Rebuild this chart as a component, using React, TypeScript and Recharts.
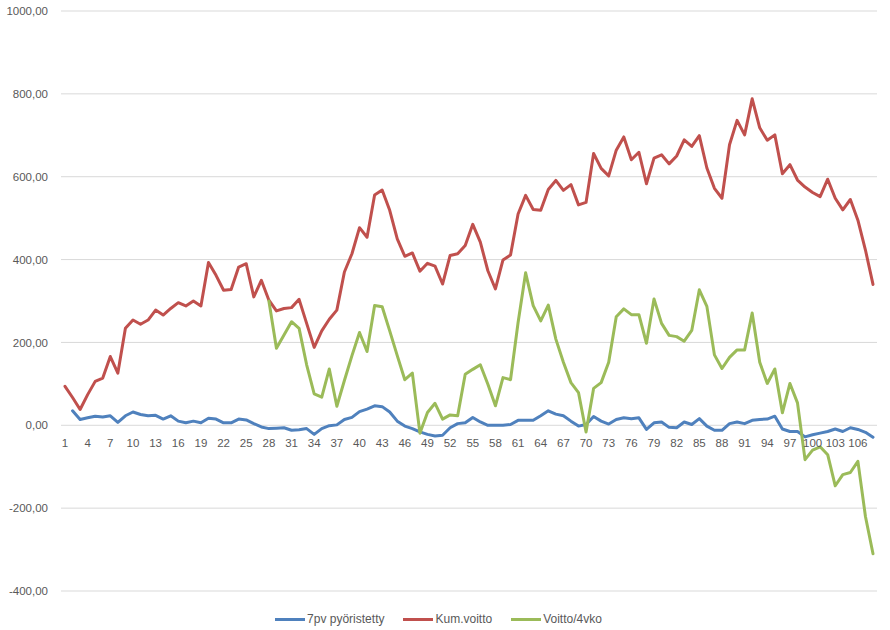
import { LineChart, Line, XAxis, YAxis, CartesianGrid, Legend } from "recharts";

const categories = [
  1, 2, 3, 4, 5, 6, 7, 8, 9, 10, 11, 12, 13, 14, 15, 16, 17, 18, 19, 20,
  21, 22, 23, 24, 25, 26, 27, 28, 29, 30, 31, 32, 33, 34, 35, 36, 37, 38, 39, 40,
  41, 42, 43, 44, 45, 46, 47, 48, 49, 50, 51, 52, 53, 54, 55, 56, 57, 58, 59, 60,
  61, 62, 63, 64, 65, 66, 67, 68, 69, 70, 71, 72, 73, 74, 75, 76, 77, 78, 79, 80,
  81, 82, 83, 84, 85, 86, 87, 88, 89, 90, 91, 92, 93, 94, 95, 96, 97, 98, 99, 100,
  101, 102, 103, 104, 105, 106, 107, 108,
];

// 7pv pyöristetty (first week empty)
const pyoristetty = [
  null, 35, 14, 18, 22, 20, 23, 7, 23, 32, 26, 23, 24, 15, 23, 10, 6, 10, 6, 17,
  15, 6, 6, 15, 13, 4, -4, -8, -7, -6, -12, -11, -8, -22, -8, -1, 1, 14, 19, 33,
  39, 47, 45, 32, 10, -2, -8, -16, -22, -26, -24, -6, 4, 6, 19, 8, 0, 0, 0, 2,
  12, 12, 12, 23, 35, 27, 23, 10, -2, 2, 21, 10, 3, 14, 18, 16, 18, -10, 6, 8,
  -5, -6, 8, 2, 16, -2, -12, -12, 4, 8, 4, 12, 14, 15, 22, -9, -15, -15, -28, -23,
  -19, -15, -9, -15, -6, -10, -17, -29,
];

const kumVoitto = [
  94, 67, 38, 74, 106, 114, 166, 126, 234, 254, 244, 254, 278, 266, 282, 296, 288, 300, 288, 393,
  362, 326, 328, 382, 390, 310, 350, 302, 276, 282, 284, 304, 246, 188, 228, 256, 278, 370, 414, 477,
  454, 556, 568, 519, 450, 408, 416, 372, 391, 384, 341, 410, 414, 434, 485, 442, 373, 329, 399, 411,
  510, 555, 521, 519, 569, 591, 567, 581, 532, 538, 656, 620, 602, 664, 696, 641, 659, 583, 645, 653,
  631, 650, 689, 673, 699, 621, 572, 548, 677, 736, 701, 788, 718, 688, 701, 607, 629, 592, 575, 562,
  552, 594, 548, 520, 545, 495, 423, 340,
];

// Voitto/4vko starts at week 28
const voitto4vko = [
  null, null, null, null, null, null, null, null, null, null, null, null, null, null, null, null, null, null, null, null,
  null, null, null, null, null, null, null, 300, 186, 218, 250, 234, 146, 76, 68, 136, 46, 108, 168, 224,
  178, 289, 286, 228, 168, 110, 126, -19, 31, 53, 15, 25, 23, 123, 135, 146, 99, 47, 115, 110,
  248, 368, 289, 252, 290, 208, 152, 103, 79, -16, 89, 103, 152, 262, 281, 267, 267, 198, 305, 246,
  217, 214, 203, 229, 327, 287, 170, 137, 164, 182, 182, 271, 152, 101, 136, 30, 101, 54, -83, -60,
  -52, -71, -146, -119, -114, -87, -220, -310,
];

const yTicks = [-400, -200, 0, 200, 400, 600, 800, 1000];

const series = [
  { key: "pyoristetty", name: "7pv pyöristetty", color: "#4F81BD" },
  { key: "kumVoitto", name: "Kum.voitto", color: "#C0504D" },
  { key: "voitto4vko", name: "Voitto/4vko", color: "#9BBB59" },
];

const data = categories.map((c, i) => ({
  name: String(c),
  pyoristetty: pyoristetty[i],
  kumVoitto: kumVoitto[i],
  voitto4vko: voitto4vko[i],
}));

const W = 890;
const H = 630;
const FONT = "'Liberation Sans', Arial, sans-serif";
const TEXT = "#595959";
const margin = { top: 11, right: 13, bottom: 1, left: 0 };
const Y_AXIS_W = 61;
const X_AXIS_H = 18;
const LEGEND_H = 20;
const Y_MIN = -400;
const Y_MAX = 1000;

const plotH = H - margin.top - margin.bottom - X_AXIS_H - LEGEND_H;
const zeroY = margin.top + (Y_MAX / (Y_MAX - Y_MIN)) * plotH;

const fmt = (v: number) => v.toFixed(2).replace(".", ",");

// category labels sit just under the zero line, like in Excel
function XTick(props: any) {
  const { x, payload } = props;
  return (
    <text x={x} y={zeroY + 22} textAnchor="middle" fill={TEXT} fontSize={11.5} fontFamily={FONT}>
      {payload.value}
    </text>
  );
}

function LegendContent() {
  return (
    <div
      style={{
        height: LEGEND_H,
        display: "flex",
        justifyContent: "center",
        alignItems: "center",
        gap: 19,
        fontFamily: FONT,
        fontSize: 12,
        color: TEXT,
      }}
    >
      {series.map((s) => (
        <div key={s.key} style={{ display: "flex", alignItems: "center" }}>
          <span style={{ width: 30, height: 3, background: s.color, marginRight: 2 }} />
          <span>{s.name}</span>
        </div>
      ))}
    </div>
  );
}

export default function App() {
  return (
    <div style={{ position: "absolute", left: 0, top: 0, width: W, height: H, background: "#fff" }}>
      <LineChart width={W} height={H} data={data} margin={margin}>
        <CartesianGrid horizontal vertical={false} stroke="#D9D9D9" strokeWidth={1} />
        <XAxis
          dataKey="name"
          axisLine={false}
          tickLine={false}
          interval={2}
          height={X_AXIS_H}
          padding={{ left: 4, right: 4 }}
          tick={<XTick />}
        />
        <YAxis
          domain={[Y_MIN, Y_MAX]}
          ticks={yTicks}
          width={Y_AXIS_W}
          axisLine={false}
          tickLine={false}
          tickSize={0}
          tickMargin={13}
          tickFormatter={fmt}
          tick={{ fill: TEXT, fontSize: 11.5, fontFamily: FONT }}
        />
        <Legend verticalAlign="bottom" height={LEGEND_H} content={<LegendContent />} />
        {series.map((s) => (
          <Line
            key={s.key}
            type="linear"
            dataKey={s.key}
            name={s.name}
            stroke={s.color}
            strokeWidth={3}
            strokeLinejoin="round"
            strokeLinecap="round"
            dot={false}
            activeDot={false}
            connectNulls={false}
            isAnimationActive={false}
          />
        ))}
      </LineChart>
    </div>
  );
}
